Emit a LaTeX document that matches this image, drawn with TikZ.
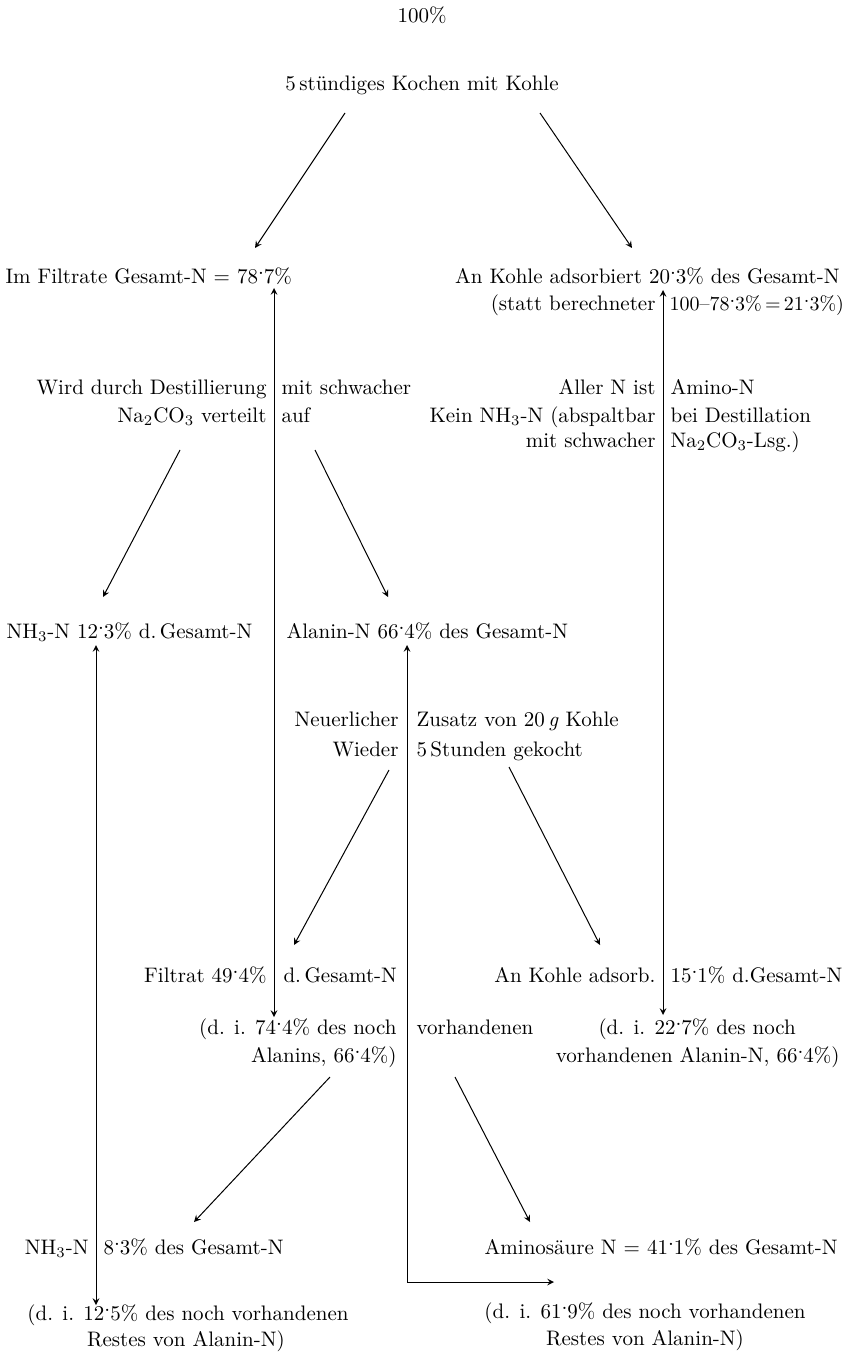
\documentclass[tikz,border=0pt]{standalone}
\usepackage{graphicx}

\def\dpk{\raisebox{.95ex}{.}}

\begin{document}
\begin{tikzpicture}[x=0.5pt,y=-0.5pt,->,>=stealth,line width=0.5pt]
    \tikzstyle{txt}=[inner sep=0pt,font=\fontsize{10.5}{12}\selectfont]
    \tikzstyle{lft}=[txt,anchor=mid east]
    \tikzstyle{rgt}=[txt,anchor=mid west]
    \useasboundingbox (0,0) rectangle (844,1353);

    % Start
    \node[txt] (pct) at (422,15) {100\%};
    \node[txt] (kochen) at (422,85) {5\,stündiges Kochen mit Kohle};

    % First split
    \node[rgt] (filtrat) at (5,279) {Im Filtrate Gesamt-N = 78\dpk7\%};
    \node[lft] (kohle) at (840,279) {An Kohle adsorbiert 20\dpk3\% des Gesamt-N};
    \node[lft] (statt) at (656,306) {(statt berechneter};
    \node[rgt,font=\fontsize{10}{12}\selectfont] (stattR) at (669,306) {100--78\dpk3\%\,=\,21\dpk3\%)};

    % Notes to the first split
    \node[lft] (wird) at (267,390) {Wird durch Destillierung};
    \node[rgt] (wirdR) at (281,390) {mit schwacher};
    \node[lft] (verteilt) at (267,418) {Na\textsubscript{2}CO\textsubscript{3} verteilt};
    \node[rgt] (verteiltR) at (281,418) {auf};
    \node[lft] (aller) at (656,390) {Aller N ist};
    \node[rgt] (allerR) at (670,390) {Amino-N};
    \node[lft] (kein) at (656,418) {Kein NH\textsubscript{3}-N (abspaltbar};
    \node[rgt] (keinR) at (670,418) {bei Destillation};
    \node[lft] (schwach) at (656,443) {mit schwacher};
    \node[rgt] (schwachR) at (670,443) {Na\textsubscript{2}CO\textsubscript{3}-Lsg.)};

    % Distillation
    \node[rgt] (nh3) at (6,634) {NH\textsubscript{3}-N 12\dpk3\% d.\,Gesamt-N};
    \node[rgt] (alanin) at (286,634) {Alanin-N 66\dpk4\% des Gesamt-N};

    \node[lft] (neu) at (399,722) {Neuerlicher};
    \node[rgt] (neuR) at (416,722) {Zusatz von 20\,\textit{g} Kohle};
    \node[lft] (wieder) at (399,752) {Wieder};
    \node[rgt] (wiederR) at (416,752) {5\,Stunden gekocht};

    % Second split
    \node[lft] (filt2) at (267,978) {Filtrat 49\dpk4\%};
    \node[rgt] (filt2R) at (283,978) {d.\,Gesamt-N};
    \node[lft] (ads2) at (656,978) {An Kohle adsorb.};
    \node[rgt] (ads2R) at (670,978) {15\dpk1\% d.Gesamt-N};
    \node[lft] (di1) at (397,1030) {(d. i. 74\dpk4\% des noch};
    \node[rgt] (di1R) at (416,1030) {vorhandenen};
    \node[lft] (alanins) at (397,1058) {Alanins, 66\dpk4\%)};
    \node[rgt] (di2) at (598,1030) {(d. i. 22\dpk7\% des noch};
    \node[lft] (di2b) at (840,1058) {vorhandenen Alanin-N, 66\dpk4\%)};

    % Last distillation
    \node[lft] (nh3b) at (89,1250) {NH\textsubscript{3}-N};
    \node[rgt] (nh3bR) at (103,1250) {8\dpk3\% des Gesamt-N};
    \node[lft] (amino) at (838,1250) {Aminosäure N = 41\dpk1\% des Gesamt-N};
    \node[txt] (rest1) at (188,1315) {(d. i. 12\dpk5\% des noch vorhandenen};
    \node[txt] (rest1b) at (186,1341) {Restes von Alanin-N)};
    \node[txt] (rest2) at (645,1313) {(d. i. 61\dpk9\% des noch vorhandenen};
    \node[txt] (rest2b) at (645,1340) {Restes von Alanin-N)};

    % Arrow ends
    \coordinate (k1) at (345,113);  \coordinate (k1e) at (255,248);
    \coordinate (k2) at (540,113);  \coordinate (k2e) at (632,248);
    \coordinate (d1) at (180,450);  \coordinate (d1e) at (103,597);
    \coordinate (d2) at (315,450);  \coordinate (d2e) at (388,597);
    \coordinate (w1) at (389,770);  \coordinate (w1e) at (294,945);
    \coordinate (w2) at (509,767);  \coordinate (w2e) at (600,945);
    \coordinate (a1) at (330,1077); \coordinate (a1e) at (194,1222);
    \coordinate (a2) at (455,1077); \coordinate (a2e) at (530,1222);

    \draw (k1) -- (k1e);
    \draw (k2) -- (k2e);
    \draw (d1) -- (d1e);
    \draw (d2) -- (d2e);
    \draw (w1) -- (w1e);
    \draw (w2) -- (w2e);
    \draw (a1) -- (a1e);
    \draw (a2) -- (a2e);

    % Long connections
    \coordinate (v1t) at (274,288);  \coordinate (v1b) at (274,1017);
    \coordinate (v2t) at (663,290);  \coordinate (v2b) at (663,1015);
    \coordinate (v3t) at (96,645);   \coordinate (v3b) at (96,1305);
    \coordinate (v4t) at (407,645);  \coordinate (v4b) at (554,1282);

    \draw[<->] (v1t) -- (v1b);
    \draw[<->] (v2t) -- (v2b);
    \draw[<->] (v3t) -- (v3b);
    \draw[<->] (v4t) |- (v4b);
\end{tikzpicture}
\end{document}
